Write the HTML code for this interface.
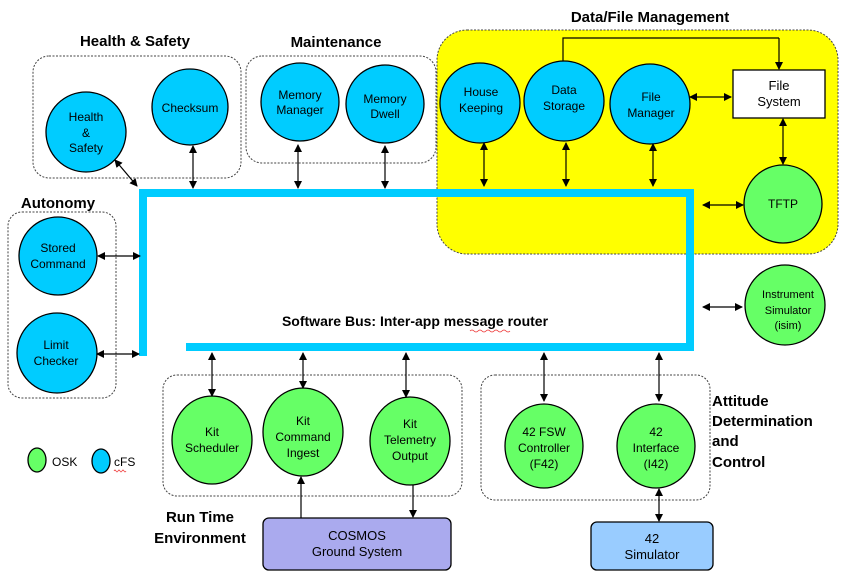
<!DOCTYPE html>
<html><head><meta charset="utf-8"><style>
html,body{margin:0;padding:0;background:#fff;}
svg{display:block;font-family:"Liberation Sans",Arial,sans-serif;}
.c{fill:#00CCFF;stroke:#000;stroke-width:1.3}
.g{fill:#66FF66;stroke:#000;stroke-width:1.3}
.d{fill:none;stroke:#444;stroke-width:1;stroke-dasharray:2,1.5}
.t{font-size:12px;text-anchor:middle;fill:#000}
.h{font-size:15px;font-weight:bold;fill:#000}
.a{stroke:#000;stroke-width:1.2;marker-start:url(#m);marker-end:url(#m)}
.e{stroke:#000;stroke-width:1.2;marker-end:url(#m)}
.bus{fill:none;stroke:#00CCFF;stroke-width:8}
</style></head><body>
<svg width="843" height="578" viewBox="0 0 843 578">
<defs><marker id="m" markerWidth="8" markerHeight="8" refX="7" refY="4" orient="auto-start-reverse" markerUnits="userSpaceOnUse"><path d="M0,0L8,4L0,8z" fill="#000"/></marker></defs>

<text class="h" x="135" y="46" text-anchor="middle">Health &amp; Safety</text>
<rect class="d" x="33" y="56" width="208" height="122" rx="16"/>
<circle class="c" cx="86" cy="132" r="40"/>
<text class="t" x="86" y="121">Health</text><text class="t" x="86" y="137">&amp;</text><text class="t" x="86" y="152">Safety</text>
<circle class="c" cx="190" cy="107" r="38"/>
<text class="t" x="190" y="112">Checksum</text>

<text class="h" x="336" y="47" text-anchor="middle">Maintenance</text>
<rect class="d" x="246" y="56" width="190" height="107" rx="16"/>
<circle class="c" cx="300" cy="102" r="39"/>
<text class="t" x="300" y="99">Memory</text><text class="t" x="300" y="114">Manager</text>
<circle class="c" cx="385" cy="104" r="39"/>
<text class="t" x="385" y="103">Memory</text><text class="t" x="385" y="118">Dwell</text>

<text class="h" x="650" y="22" text-anchor="middle">Data/File Management</text>
<rect x="437" y="30" width="401" height="224" rx="30" fill="#FFFF00" stroke="#444" stroke-dasharray="2,1.5"/>
<circle class="c" cx="480" cy="103" r="40"/>
<text class="t" x="481" y="96">House</text><text class="t" x="481" y="112">Keeping</text>
<circle class="c" cx="564" cy="101" r="40"/>
<text class="t" x="564" y="94">Data</text><text class="t" x="564" y="110">Storage</text>
<circle class="c" cx="650" cy="104" r="40"/>
<text class="t" x="651" y="101">File</text><text class="t" x="651" y="117">Manager</text>
<rect x="733" y="70" width="92" height="48" fill="#fff" stroke="#000" stroke-width="1.3"/>
<text class="t" x="779" y="90" style="font-size:13px">File</text><text class="t" x="779" y="106" style="font-size:13px">System</text>
<circle class="g" cx="783" cy="204" r="39"/>
<text class="t" x="783" y="208">TFTP</text>
<path d="M563,61V38H779" fill="none" stroke="#000" stroke-width="1.2"/>
<line class="e" x1="779" y1="38" x2="779" y2="69"/>
<line class="a" x1="690" y1="97" x2="731" y2="97"/>
<line class="a" x1="783" y1="119" x2="783" y2="164"/>

<path class="bus" d="M143,356V193H690V347H186"/>

<line class="a" x1="115" y1="160" x2="137" y2="186"/>
<line class="a" x1="193" y1="146" x2="193" y2="188"/>
<line class="a" x1="298" y1="145" x2="298" y2="188"/>
<line class="a" x1="385" y1="146" x2="385" y2="188"/>
<line class="a" x1="484" y1="143" x2="484" y2="186"/>
<line class="a" x1="566" y1="143" x2="566" y2="186"/>
<line class="a" x1="653" y1="144" x2="653" y2="186"/>
<line class="a" x1="703" y1="205" x2="743" y2="205"/>

<text class="h" x="58" y="208" text-anchor="middle">Autonomy</text>
<rect class="d" x="8" y="212" width="108" height="186" rx="14"/>
<circle class="c" cx="58" cy="256" r="39"/>
<text class="t" x="58" y="252">Stored</text><text class="t" x="58" y="268">Command</text>
<circle class="c" cx="57" cy="353" r="40"/>
<text class="t" x="56" y="349">Limit</text><text class="t" x="56" y="365">Checker</text>
<line class="a" x1="98" y1="256" x2="140" y2="256"/>
<line class="a" x1="97" y1="354" x2="139" y2="354"/>

<text class="h" x="415" y="326" text-anchor="middle" style="font-size:14px">Software Bus: Inter-app message router</text>
<path d="M470,331q2,-2 4,0t4,0t4,0t4,0t4,0t4,0t4,0t4,0t4,0t4,0" fill="none" stroke="#e33" stroke-width="0.8"/>

<circle class="g" cx="785" cy="305" r="40"/>
<text class="t" x="788" y="298" style="font-size:11px">Instrument</text><text class="t" x="788" y="314" style="font-size:11px">Simulator</text><text class="t" x="788" y="329" style="font-size:11px">(isim)</text>
<line class="a" x1="703" y1="307" x2="742" y2="307"/>

<rect class="d" x="163" y="375" width="299" height="121" rx="14"/>
<ellipse class="g" cx="212" cy="440" rx="40" ry="44"/>
<text class="t" x="212" y="436">Kit</text><text class="t" x="212" y="452">Scheduler</text>
<ellipse class="g" cx="303" cy="432" rx="40" ry="44"/>
<text class="t" x="303" y="425">Kit</text><text class="t" x="303" y="441">Command</text><text class="t" x="303" y="457">Ingest</text>
<ellipse class="g" cx="410" cy="441" rx="40" ry="44"/>
<text class="t" x="410" y="428">Kit</text><text class="t" x="410" y="444">Telemetry</text><text class="t" x="410" y="460">Output</text>
<line class="a" x1="212" y1="353" x2="212" y2="396"/>
<line class="a" x1="303" y1="353" x2="303" y2="388"/>
<line class="a" x1="406" y1="353" x2="406" y2="397"/>

<rect class="d" x="481" y="375" width="229" height="125" rx="14"/>
<ellipse class="g" cx="544" cy="446" rx="39" ry="42"/>
<text class="t" x="544" y="436">42 FSW</text><text class="t" x="544" y="452">Controller</text><text class="t" x="544" y="468">(F42)</text>
<ellipse class="g" cx="656" cy="446" rx="39" ry="42"/>
<text class="t" x="656" y="436">42</text><text class="t" x="656" y="452">Interface</text><text class="t" x="656" y="468">(I42)</text>
<line class="a" x1="544" y1="353" x2="544" y2="401"/>
<line class="a" x1="659" y1="353" x2="659" y2="401"/>

<text class="h" x="712" y="406">Attitude</text>
<text class="h" x="712" y="426">Determination</text>
<text class="h" x="712" y="446">and</text>
<text class="h" x="712" y="467">Control</text>

<ellipse class="g" cx="37" cy="460" rx="9" ry="12"/>
<text x="52" y="466" style="font-size:12px">OSK</text>
<ellipse class="c" cx="101" cy="461" rx="9" ry="12"/>
<text x="114" y="466" style="font-size:12px">cFS</text>
<path d="M114,471q1,-2 2,0t2,0t2,0t2,0t2,0t2,0" fill="none" stroke="#e33" stroke-width="0.8"/>

<text class="h" x="200" y="522" text-anchor="middle">Run Time</text>
<text class="h" x="200" y="543" text-anchor="middle">Environment</text>

<rect x="263" y="518" width="188" height="52" rx="6" fill="#AAAAEE" stroke="#000" stroke-width="1.3"/>
<text class="t" x="357" y="540" style="font-size:13px">COSMOS</text><text class="t" x="357" y="556" style="font-size:13px">Ground System</text>
<line class="e" x1="301" y1="518" x2="301" y2="477"/>
<line class="e" x1="413" y1="485" x2="413" y2="517"/>

<rect x="591" y="522" width="122" height="48" rx="6" fill="#99CCFF" stroke="#000" stroke-width="1.3"/>
<text class="t" x="652" y="543" style="font-size:13px">42</text><text class="t" x="652" y="559" style="font-size:13px">Simulator</text>
<line class="a" x1="659" y1="489" x2="659" y2="521"/>
</svg>
</body></html>
